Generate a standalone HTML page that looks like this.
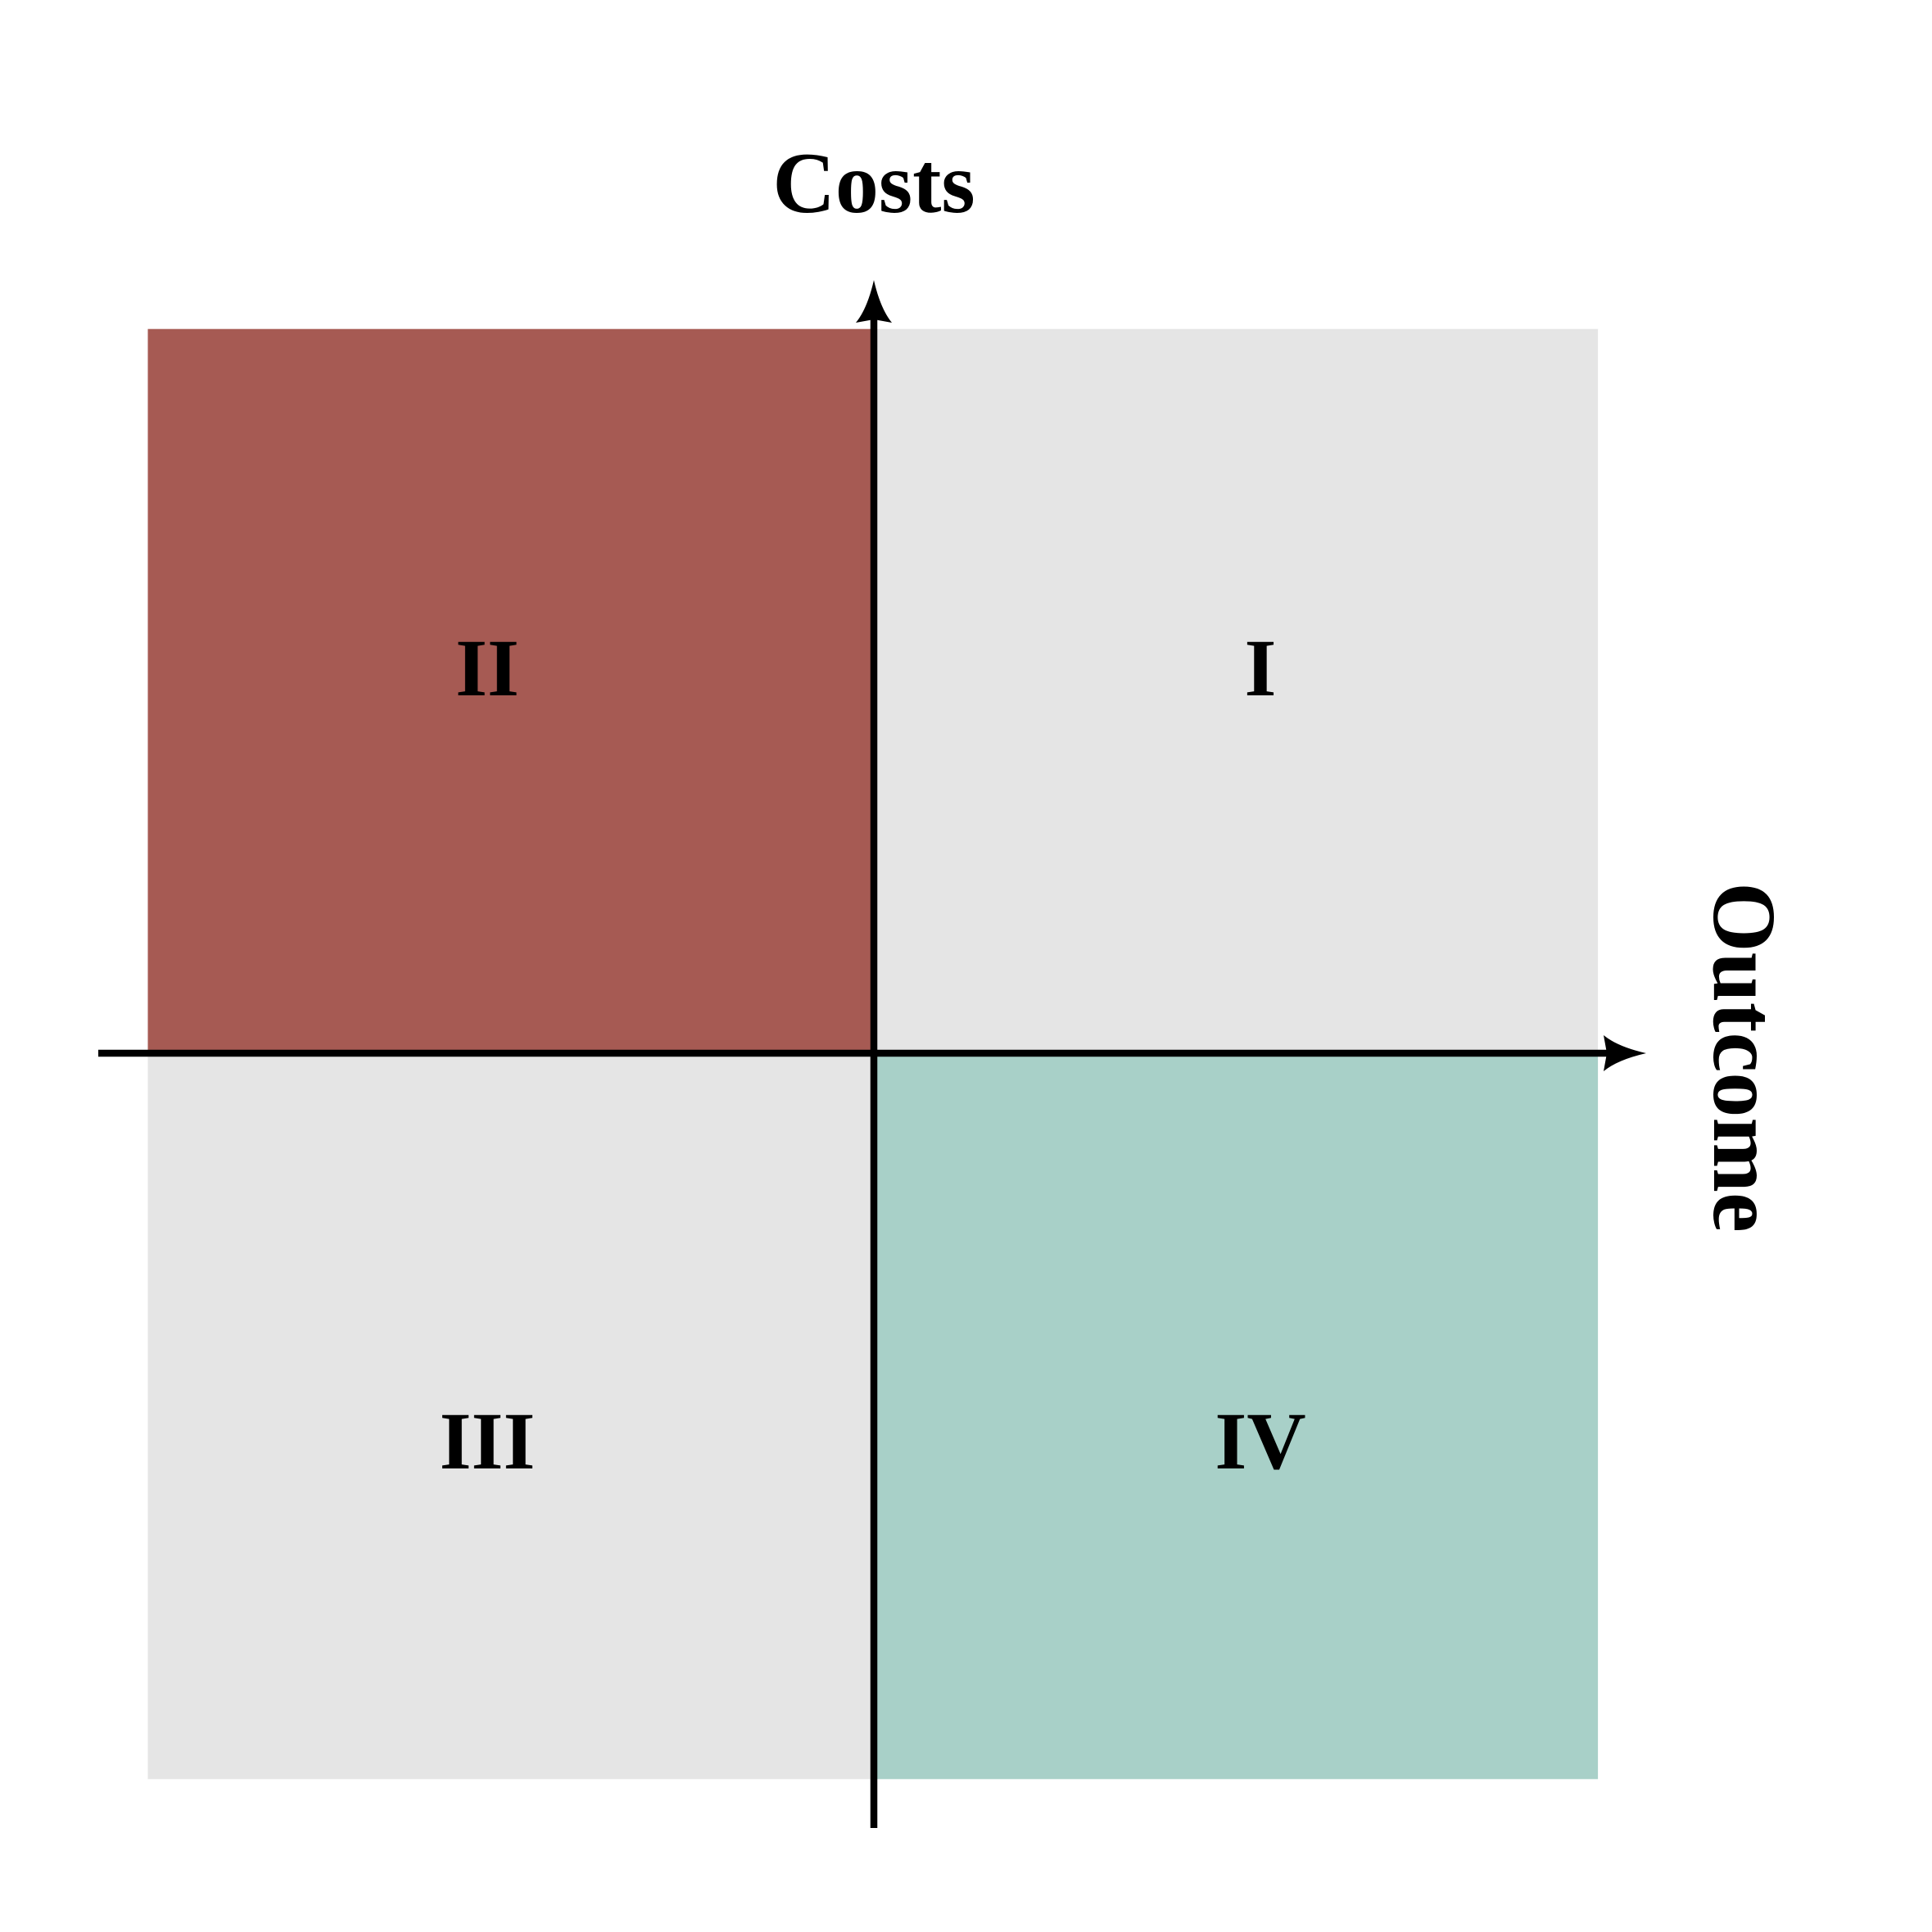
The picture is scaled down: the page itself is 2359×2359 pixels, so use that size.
<!DOCTYPE html>
<html><head><meta charset="utf-8"><style>
html,body{margin:0;padding:0;background:#fff}
svg{display:block}
text{font-family:"Liberation Serif",serif;font-weight:bold;fill:#000}
</style></head><body>
<svg id="chart" width="2359" height="2359" viewBox="0 0 2359 2359" xmlns="http://www.w3.org/2000/svg">
<g id="quads"></g>
<g id="labels"></g>
<line x1="120" y1="1286" x2="1975" y2="1286" stroke="#000" stroke-width="8.5"/>
<path d="M2010,1286 Q1975,1278 1958,1264 L1962,1286 L1958,1308 Q1975,1294 2010,1286 Z" fill="#000"/>
<line x1="1067" y1="2232" x2="1067" y2="380" stroke="#000" stroke-width="8.5"/>
<path d="M1067,342 Q1059,377 1045,394 L1067,390 L1089,394 Q1075,377 1067,342 Z" fill="#000"/>
<text x="1067" y="259" font-size="106" text-anchor="middle">Costs</text>
<text x="0" y="0" font-size="110" text-anchor="middle" transform="translate(2093,1291) rotate(90)">Outcome</text>
</svg>
<script>
const quadLabels = ["I","II","III","IV"];
const quadCol = [1, 0, 0, 1];
const quadRow = [0, 0, 1, 1];
const quadColors = ["#E5E5E5","#A65A53","#E5E5E5","#A8D0C8"];
const x0 = 180.5, y0 = 401.7, size = 885.3;
const cx = 1067, cy = 1286, off = 472;
const ns = "http://www.w3.org/2000/svg";
const qg = document.getElementById("quads"), lg = document.getElementById("labels");
quadLabels.forEach((lab, i) => {
  const r = document.createElementNS(ns, "rect");
  r.setAttribute("x", x0 + quadCol[i]*size);
  r.setAttribute("y", y0 + quadRow[i]*size);
  r.setAttribute("width", size);
  r.setAttribute("height", size);
  r.setAttribute("fill", quadColors[i]);
  
  
  qg.appendChild(r);
  const t = document.createElementNS(ns, "text");
  t.setAttribute("x", cx + (quadCol[i]*2-1)*off);
  t.setAttribute("y", cy + (quadRow[i]*2-1)*off + 35);
  t.setAttribute("font-size", "100");
  t.setAttribute("text-anchor", "middle");
  t.textContent = lab;
  
  
  lg.appendChild(t);
});
</script>
</body></html>
